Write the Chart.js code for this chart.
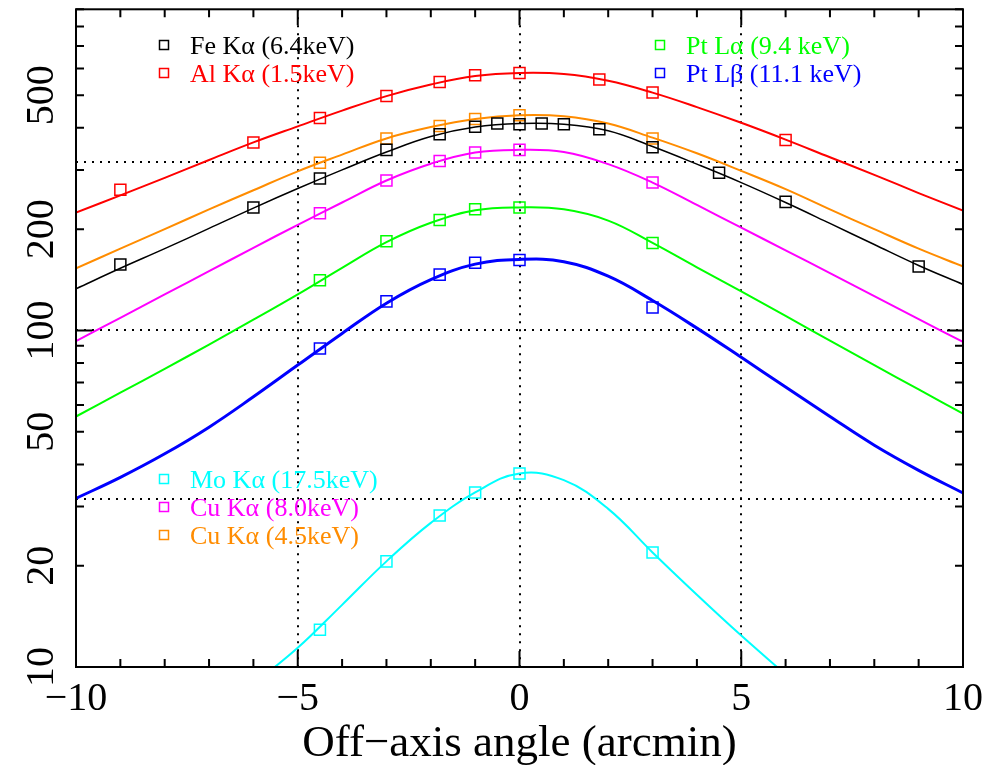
<html>

<head>
    <script src="https://cdn.jsdelivr.net/npm/chart.js"></script>
    <style>
        body { margin: 0; background: #fff; }
    </style>
</head>

<body>
    <canvas id="chart" width="984" height="765"></canvas>

    <script>
        var angles = [-10, -9, -8, -7, -6, -5, -4, -3, -2, -1, 0, 1, 2, 3, 4, 5, 6, 7, 8, 9, 10];
        var alCurve = [224, 252, 284, 321, 362, 404, 450, 497, 538, 570, 582, 578, 552, 509, 461, 414, 369, 327, 290, 256, 227];
        var feCurve = [133, 153, 175, 201, 231, 264, 300, 339, 377, 402, 412, 410, 392, 352, 312, 275, 240, 208, 180, 156, 137];
        var cu45Curve = [153, 175, 200, 229, 261, 297, 333, 372, 402, 425, 436, 433, 412, 374, 336, 298, 263, 229, 200, 175, 155];
        var cu80Curve = [93, 109, 128, 150, 176, 206, 240, 279, 313, 338, 344, 339, 312, 275, 236, 202, 173, 148, 126.5, 108, 92.5];
        var ptlaCurve = [55.5, 65.3, 76.9, 90.8, 107.6, 128, 153.5, 183, 209, 227.5, 232, 229, 212, 182, 154, 130.6, 110.4, 93.3, 78.9, 66.8, 56.6];
        var ptlbCurve = [31.7, 36.6, 43, 51.6, 63.5, 78.9, 98, 120.5, 141.6, 157.4, 162.6, 160, 144.9, 122.7, 101.6, 83.2, 67.9, 55.5, 45.6, 38.4, 32.9];
        var moAngles = [-6, -5, -4, -3, -2, -1, 0, 1, 2, 3, 4, 5, 6];
        var moCurve = [8.9, 11.4, 15.3, 20.6, 26.8, 33, 37.6, 35.9, 29.5, 21.9, 16.4, 12.4, 9.5];

        // measured points
        var alX = [-9, -6, -4.5, -3, -1.8, -1, 0, 1.8, 3, 6];
        var alY = [262, 362, 428, 497, 547, 573, 582, 557, 509, 368];
        var feX = [-9, -6, -4.5, -3, -1.8, -1, -0.5, 0, 0.5, 1, 1.8, 3, 4.5, 6, 9];
        var feY = [157, 232, 283, 344, 383, 403, 412, 410, 412, 410, 396, 350, 294, 241, 155];
        var cu45X = [-4.5, -3, -1.8, -1, 0, 3];
        var cu45Y = [315, 372, 405, 425, 436, 372];
        var cu80X = [-4.5, -3, -1.8, -1, 0, 3];
        var cu80Y = [223, 279, 319, 338, 344, 275];
        var ptlaX = [-4.5, -3, -1.8, -1, 0, 3];
        var ptlaY = [141, 184, 213, 229, 232, 182];
        var ptlbX = [-4.5, -3, -1.8, -1, 0, 3];
        var ptlbY = [88.4, 122, 146.5, 159, 162, 117];
        var moX = [-4.5, -3, -1.8, -1, 0, 3];
        var moY = [12.9, 20.6, 28.2, 33, 37.6, 21.9];

        var xTickLabels = [-10, -5, 0, 5, 10];
        var yTickLabels = [10, 20, 50, 100, 200, 500];
        var refX = [-5, 0, 5];
        var refY = [31.6, 100, 316];

        var SERIF = "'Liberation Serif', 'Times New Roman', serif";

        function pts(xs, ys) {
            return xs.map(function (x, i) { return { x: x, y: ys[i] }; });
        }

        function markSet(xs, ys, color) {
            return {
                data: pts(xs, ys),
                showLine: false,
                pointStyle: 'rect',
                pointRadius: 7.8,
                pointBorderWidth: 1.5,
                pointBorderColor: color,
                pointBackgroundColor: 'rgba(0,0,0,0)'
            };
        }

        function curveSet(xs, ys, color, width) {
            return {
                data: pts(xs, ys),
                borderColor: color,
                borderWidth: width,
                pointRadius: 0,
                tension: 0.4,
                fill: false
            };
        }

        var legendItems = [
            { text: 'Fe Kα (6.4keV)', color: '#000000', x: 164, y: 54 },
            { text: 'Al Kα (1.5keV)', color: '#ff0000', x: 164, y: 82 },
            { text: 'Pt Lα (9.4 keV)', color: '#00ff00', x: 660, y: 54 },
            { text: 'Pt Lβ (11.1 keV)', color: '#0000ff', x: 660, y: 82 },
            { text: 'Mo Kα (17.5keV)', color: '#00ffff', x: 164, y: 488 },
            { text: 'Cu Kα (8.0keV)', color: '#ff00ff', x: 164, y: 516 },
            { text: 'Cu Kα (4.5keV)', color: '#ff8c00', x: 164, y: 544 }
        ];

        function fmt(v) {
            return v < 0 ? '\u2212' + Math.abs(v) : String(v);
        }

        var dotted = {
            id: 'dotted',
            beforeDatasetsDraw: function (chart) {
                var ctx = chart.ctx, a = chart.chartArea;
                var xs = chart.scales.x, ys = chart.scales.y;
                ctx.save();
                ctx.strokeStyle = '#000';
                ctx.lineWidth = 2;
                ctx.setLineDash([2, 6]);
                refX.forEach(function (v) {
                    var px = Math.round(xs.getPixelForValue(v));
                    ctx.beginPath(); ctx.moveTo(px, a.top); ctx.lineTo(px, a.bottom); ctx.stroke();
                });
                refY.forEach(function (v) {
                    var py = Math.round(ys.getPixelForValue(v));
                    ctx.beginPath(); ctx.moveTo(a.left, py); ctx.lineTo(a.right, py); ctx.stroke();
                });
                ctx.restore();
            }
        };

        var frame = {
            id: 'frame',
            afterDraw: function (chart) {
                var ctx = chart.ctx, a = chart.chartArea;
                var xs = chart.scales.x, ys = chart.scales.y;
                ctx.save();
                ctx.strokeStyle = '#000';
                ctx.lineWidth = 2;
                ctx.strokeRect(a.left, a.top, a.right - a.left, a.bottom - a.top);

                // inward ticks on all four sides
                ctx.beginPath();
                for (var t = -10; t <= 10; t++) {
                    var px = xs.getPixelForValue(t);
                    var len = (t % 5 == 0) ? 16 : 8;
                    ctx.moveTo(px, a.bottom); ctx.lineTo(px, a.bottom - len);
                    ctx.moveTo(px, a.top); ctx.lineTo(px, a.top + len);
                }
                [10, 100].forEach(function (dec) {
                    for (var m = 1; m <= 9; m++) {
                        var v = dec * m;
                        if (v > 900) break;
                        var py = ys.getPixelForValue(v);
                        var len = (m == 1) ? 16 : 8;
                        ctx.moveTo(a.left, py); ctx.lineTo(a.left + len, py);
                        ctx.moveTo(a.right, py); ctx.lineTo(a.right - len, py);
                    }
                });
                ctx.stroke();

                // tick labels
                ctx.fillStyle = '#000';
                ctx.font = '40px ' + SERIF;
                ctx.textAlign = 'center';
                ctx.textBaseline = 'alphabetic';
                xTickLabels.forEach(function (v) {
                    ctx.fillText(fmt(v), xs.getPixelForValue(v), 710);
                });
                yTickLabels.forEach(function (v) {
                    ctx.save();
                    ctx.translate(53, ys.getPixelForValue(v));
                    ctx.rotate(-Math.PI / 2);
                    ctx.fillText(String(v), 0, 0);
                    ctx.restore();
                });

                ctx.font = '45px ' + SERIF;
                ctx.fillText('Off\u2212axis angle (arcmin)', (a.left + a.right) / 2, 756);

                // legend
                ctx.font = '26px ' + SERIF;
                ctx.textAlign = 'left';
                ctx.lineWidth = 1.5;
                legendItems.forEach(function (it) {
                    ctx.strokeStyle = it.color;
                    ctx.strokeRect(it.x - 4.5, it.y - 13.5, 9, 9);
                    ctx.fillStyle = it.color;
                    ctx.fillText(it.text, it.x + 26, it.y);
                });
                ctx.restore();
            }
        };

        var ctx = document.getElementById('chart').getContext('2d');
        var myChart = new Chart(ctx, {
            type: 'line',
            data: {
                datasets: [
                    markSet(feX, feY, '#000000'),
                    markSet(alX, alY, '#ff0000'),
                    markSet(cu45X, cu45Y, '#ff8c00'),
                    markSet(cu80X, cu80Y, '#ff00ff'),
                    markSet(ptlaX, ptlaY, '#00ff00'),
                    markSet(ptlbX, ptlbY, '#0000ff'),
                    markSet(moX, moY, '#00ffff'),
                    curveSet(angles, feCurve, '#000000', 1.5),
                    curveSet(angles, alCurve, '#ff0000', 2),
                    curveSet(angles, cu45Curve, '#ff8c00', 2),
                    curveSet(angles, cu80Curve, '#ff00ff', 2),
                    curveSet(angles, ptlaCurve, '#00ff00', 2),
                    curveSet(angles, ptlbCurve, '#0000ff', 3),
                    curveSet(moAngles, moCurve, '#00ffff', 2)
                ]
            },
            options: {
                responsive: false,
                animation: false,
                layout: { padding: { left: 76, right: 21, top: 7, bottom: 98 } },
                plugins: { legend: { display: false }, tooltip: { enabled: false } },
                scales: {
                    x: { type: 'linear', min: -10, max: 10, display: false },
                    y: { type: 'logarithmic', min: 10, max: 900, display: false }
                }
            },
            plugins: [dotted, frame]
        });
    </script>

</body>

</html>
